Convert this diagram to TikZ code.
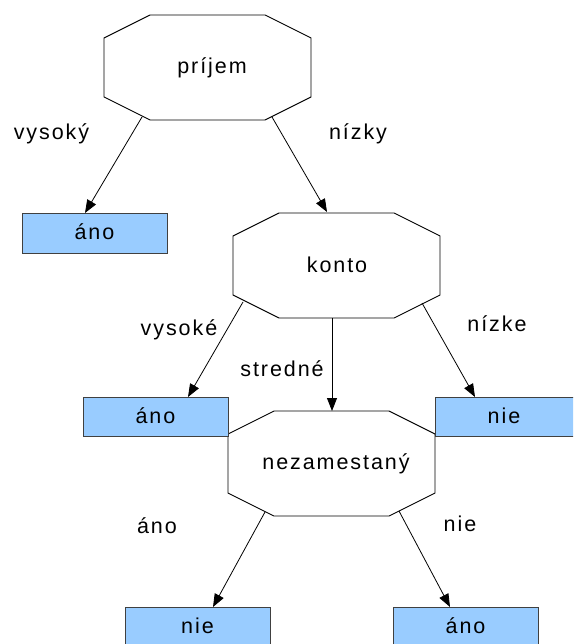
\documentclass[tikz,border=0pt]{standalone}
\usepackage{fontspec}
\setmainfont{Liberation Sans}[LetterSpace=9]
\usetikzlibrary{arrows.meta}
\definecolor{boxblue}{HTML}{99CCFF}
\definecolor{boxline}{HTML}{404040}
\tikzset{
  octa/.style={draw=black, line width=0.9pt, fill=white},
  leaf/.style={draw=boxline, line width=0.9pt, fill=boxblue},
  txt/.style={anchor=base, inner sep=0pt, font=\fontsize{21.5pt}{26pt}\selectfont},
  conn/.style={draw=black, line width=0.8pt, -{Triangle[length=13pt,width=10pt]}}
}
\newcommand{\octshape}[2]{%
  \path[octa] (#1-57.5,#2-52.5) -- (#1+57.5,#2-52.5) -- (#1+103.5,#2-29.5) -- (#1+103.5,#2+29.5)
    -- (#1+57.5,#2+52.5) -- (#1-57.5,#2+52.5) -- (#1-103.5,#2+29.5) -- (#1-103.5,#2-29.5) -- cycle;}
\begin{document}
\begin{tikzpicture}[x=1pt,y=-1pt]
\useasboundingbox (0,0) rectangle (573,644);
\clip (0,0) rectangle (573,644);
\fill[white] (0,0) rectangle (573,644);
% octagons
\octshape{207.5}{67.5}
\octshape{336.5}{265.5}
\octshape{331.5}{463.5}
% leaf boxes
\path[leaf] (22,213) rectangle (167,253);
\path[leaf] (83,397) rectangle (228,436);
\path[leaf] (435,397) rectangle (580,436);
\path[leaf] (125,607) rectangle (270,647);
\path[leaf] (393,607) rectangle (538,647);
% node texts
\node[txt] (prijem) at (212,74) {príjem};
\node[txt] (konto) at (337,272) {konto};
\node[txt] (nezam) at (336,469) {nezamestaný};
\node[txt] (ano1) at (94.5,239) {áno};
\node[txt] (ano2) at (155.5,423) {áno};
\node[txt] (nie1) at (504,423) {nie};
\node[txt] (nie2) at (197.5,633) {nie};
\node[txt] (ano3) at (465.5,633) {áno};
% edge labels
\node[txt] (l1) at (51.5,140) {vysoký};
\node[txt] (l2) at (358,140) {nízky};
\node[txt] (l3) at (179,335) {vysoké};
\node[txt] (l4) at (497,331) {nízke};
\node[txt] (l5) at (282,376) {stredné};
\node[txt] (l6) at (157,533) {áno};
\node[txt] (l7) at (460,531) {nie};
% connector end points
\coordinate (p-l) at (142,117);
\coordinate (p-r) at (272,117);
\coordinate (k-top) at (327,212);
\coordinate (k-l) at (243,302);
\coordinate (k-m) at (332,318);
\coordinate (k-r) at (422,303);
\coordinate (a1-top) at (85,213);
\coordinate (a2-top) at (188,397);
\coordinate (n-top) at (332,411);
\coordinate (nie1-top) at (475,397);
\coordinate (z-l) at (265,512);
\coordinate (z-r) at (399,511);
\coordinate (nie2-top) at (213,607);
\coordinate (a3-top) at (450,607);
% connectors
\draw[conn] (p-l) -- (a1-top);
\draw[conn] (p-r) -- (k-top);
\draw[conn] (k-l) -- (a2-top);
\draw[conn] (k-m) -- (n-top);
\draw[conn] (k-r) -- (nie1-top);
\draw[conn] (z-l) -- (nie2-top);
\draw[conn] (z-r) -- (a3-top);
\end{tikzpicture}
\end{document}
